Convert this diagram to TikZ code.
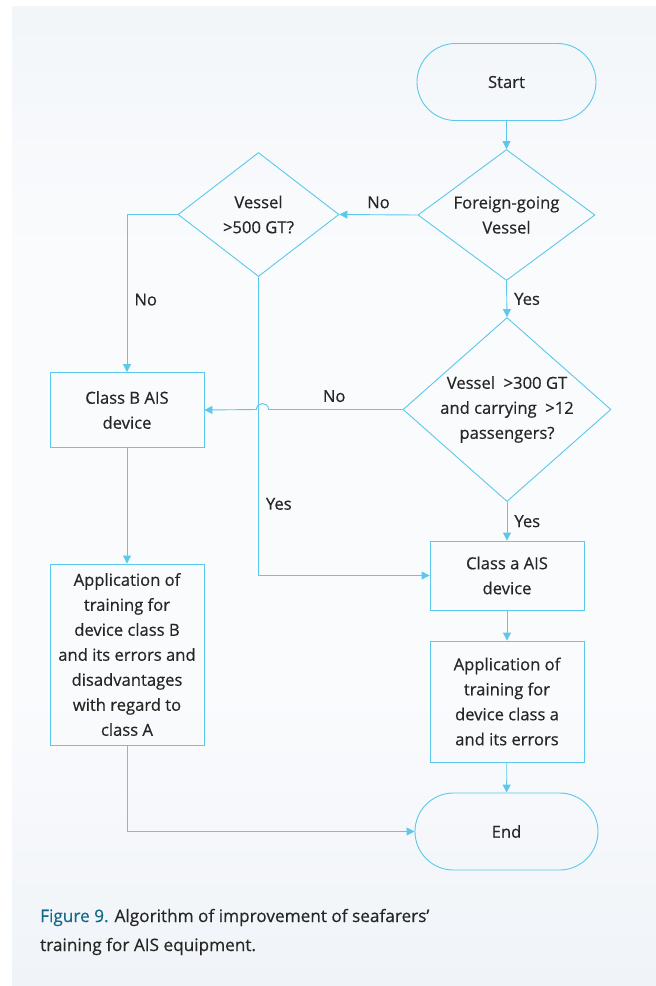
\documentclass[tikz,border=0pt]{standalone}
\usepackage{fontspec}
\setmainfont{Open Sans}[FakeBold=0.45]
\usetikzlibrary{shapes.geometric,shapes.misc,arrows.meta}
\definecolor{flow}{HTML}{5BC8EC}
\definecolor{txt}{HTML}{262626}
\definecolor{figteal}{HTML}{16698A}
\definecolor{bgtop}{HTML}{DFE7F0}
\definecolor{bgtopmid}{HTML}{EDF2F6}
\definecolor{bgmid}{HTML}{FAFBFD}
\definecolor{bglow}{HTML}{E7EDF3}
\definecolor{bgbot}{HTML}{E2E9F1}
\pgfdeclareverticalshading{panelshade}{100bp}{color(0bp)=(bgbot); color(12bp)=(bglow); color(40bp)=(bgmid); color(62bp)=(bgmid); color(85bp)=(bgtopmid); color(100bp)=(bgtop)}
\tikzset{
  every node/.style={text=txt, font=\fontsize{16.6}{25}\selectfont},
  line/.style={draw=flow, line width=0.9pt},
  arr/.style={line, -{Triangle[length=8pt,width=8pt]}},
  term/.style={line, rounded rectangle, minimum width=179pt, minimum height=77pt, inner sep=0pt},
  dec/.style={line, diamond, inner sep=0pt},
  dectext/.style={align=center, inner sep=0pt},
  proc/.style={line, rectangle, inner sep=0pt, align=center},
  lbl/.style={inner sep=1pt},
  captxt/.style={anchor=base west, inner sep=0pt, font=\fontsize{17.2}{29}\selectfont}
}
\begin{document}
\begin{tikzpicture}[x=1pt,y=-1pt]
\useasboundingbox (0,0) rectangle (656,986);
\fill[white] (0,0) rectangle (656,986);
\shade[shading=panelshade] (12,6) rectangle (656,986);

\node[term] (start) at (506.5,82) {Start};
\node[dec, minimum width=177pt, minimum height=131pt] (foreign) at (506.5,215) {};
\node[dectext] (foreignt) at (foreign) {Foreign-going\\Vessel};
\node[dec, minimum width=161pt, minimum height=124pt] (v500) at (258.5,214.5) {};
\node[dectext] (v500t) at (v500) {Vessel\\>500 GT?};
\node[dec, minimum width=208pt, minimum height=184pt] (v300) at (507,409.5) {};
\node[dectext] (v300t) at (v300) {Vessel~~>300 GT\\and carrying~~>12\\passengers?};
\node[proc, minimum width=154pt, minimum height=75pt] (classB) at (127,410) {Class B AIS\\device};
\node[proc, minimum width=154pt, minimum height=69pt] (classA) at (507,575.5) {Class a AIS\\device};
\node[proc, minimum width=154pt, minimum height=121pt] (appA) at (507,701.5) {Application of\\training for\\device class a\\and its errors};
\node[proc, minimum width=154pt, minimum height=181pt] (appB) at (127,654.5) {Application of\\training for\\device class B\\and its errors and\\disadvantages\\with regard to\\class A};
\node[term, minimum width=183pt] (end) at (506.5,831.5) {End};

\coordinate (hopR) at (268.5,409.5);
\coordinate (hopL) at (256.5,409.5);

\draw[arr] (start) -- (foreign);
\draw[arr] (foreign.west) -- node[lbl, above=5pt] (no1) {No} (v500.east);
\draw[arr] (v500.west) -| node[lbl, pos=0.77, right=6pt] (no2) {No} (classB.north);
\draw[arr] (v500.south) |- node[lbl, pos=0.38, right=6pt] (yes3) {Yes} (classA.west);
\draw[arr] (foreign.south) -- node[lbl, right=6pt] (yes1) {Yes} (v300.north);
\draw[arr] (v300.west) -- node[lbl, above=6pt, pos=0.51] (no3) {No} (hopR) .. controls (268.5,401.5) and (256.5,401.5) .. (hopL) -- (classB.east);
\draw[arr] (v300.south) -- node[lbl, right=6pt] (yes2) {Yes} (classA.north);
\draw[arr] (classA) -- (appA);
\draw[arr] (appA) -- (end);
\draw[arr] (classB) -- (appB);
\draw[arr] (appB.south) |- (end.west);

\node[captxt] (caption1) at (40,922) {\textcolor{figteal}{Figure 9.} Algorithm of improvement of seafarers’};
\node[captxt] (caption2) at (40,951) {training for AIS equipment.};
\end{tikzpicture}
\end{document}
